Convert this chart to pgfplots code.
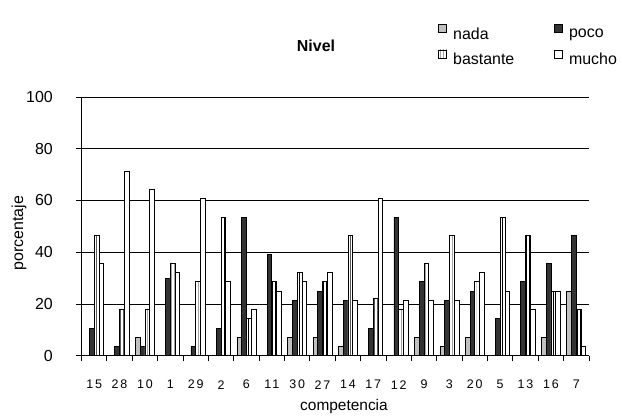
\documentclass[border=0pt]{standalone}
\usepackage{fontspec}
\setmainfont{Liberation Sans}
\newfontfamily\spaced[LetterSpace=15]{Liberation Sans}
\usepackage{pgfplots}
\pgfplotsset{compat=1.18}
\usetikzlibrary{patterns}

\definecolor{nadagray}{HTML}{C0C0C0}
\definecolor{pocogray}{HTML}{333333}

% competencia: nada, poco, bastante, mucho (porcentaje)
\begin{document}
\begin{tikzpicture}
\begin{axis}[
    scale only axis,
    width=507.5bp, height=258.7bp,
    ybar=0pt, bar width=4.75bp,
    xmin=-0.5, xmax=19.5,
    ymin=0, ymax=100,
    axis x line*=bottom, axis y line*=left,
    axis line style={-, line width=0.8bp},
    ytick={0,20,...,100},
    xtick={0,...,19},
    xticklabels={15,28,10,1,29,2,6,11,30,27,14,17,12,9,3,20,5,13,16,7},
    xtick pos=left, ytick pos=left,
    tick align=outside,
    major tick length=5bp,
    tick style={draw=none},
    ymajorgrids,
    grid style={black, line width=0.8bp},
    /pgf/number format/assume math mode=true,
    yticklabel style={font=\fontsize{16}{19}\selectfont, anchor=east, inner sep=0pt, xshift=-23.5bp},
    xticklabel style={font=\spaced\fontsize{12.5}{15}\selectfont, anchor=center, inner sep=0pt, yshift=-24bp},
    xlabel={competencia},
    ylabel={porcentaje},
    xlabel style={font=\fontsize{15.5}{18}\selectfont, at={(axis description cs:0.5172,-0.1983)}, anchor=center},
    ylabel style={font=\fontsize{16}{19}\selectfont, at={(axis description cs:-0.1232,0.4743)}, anchor=center},
    legend image code/.code={\draw[#1, line width=0.8bp] (0bp,1.5bp) rectangle (8bp,9.5bp); \path (12bp,0bp);},
    legend style={at={(axis description cs:0.697,1.29)}, anchor=north west,
        draw=none, fill=none, font=\fontsize{16}{19}\selectfont,
        row sep=7bp,
        /tikz/every even column/.append style={column sep=38bp}},
    legend columns=2,
    legend cell align=left,
]
\addplot[draw=black, line width=0.75bp, fill=nadagray] coordinates {
(0,0) (1,0) (2,7.1) (3,0) (4,0) (5,0) (6,7.1) (7,0) (8,7.1) (9,7.1)
(10,3.6) (11,0) (12,0) (13,7.1) (14,3.6) (15,7.1) (16,0) (17,0) (18,7.1) (19,25)
};
\addplot[draw=black, line width=0.75bp, fill=pocogray] coordinates {
(0,10.7) (1,3.6) (2,3.6) (3,30) (4,3.6) (5,10.7) (6,53.6) (7,39.3) (8,21.4) (9,25)
(10,21.4) (11,10.7) (12,53.6) (13,28.6) (14,21.4) (15,25) (16,14.3) (17,28.6) (18,35.7) (19,46.4)
};
\addplot[draw=black, line width=0.75bp, fill=white, postaction={pattern=vertical lines}] coordinates {
(0,46.4) (1,17.9) (2,17.9) (3,35.7) (4,28.6) (5,53.6) (6,14.3) (7,28.6) (8,32.1) (9,28.6)
(10,46.4) (11,22) (12,17.9) (13,35.7) (14,46.4) (15,28.6) (16,53.6) (17,46.4) (18,25) (19,17.9)
};
\addplot[draw=black, line width=0.75bp, fill=white] coordinates {
(0,35.7) (1,71.4) (2,64.3) (3,32.1) (4,60.7) (5,28.6) (6,17.9) (7,25) (8,28.6) (9,32.1)
(10,21.4) (11,60.7) (12,21.4) (13,21.4) (14,21.4) (15,32.1) (16,25) (17,17.9) (18,25) (19,3.6)
};
\legend{nada,poco,bastante,mucho}
\end{axis}
% tick marks between categories and at the y ticks
\foreach \i in {0,...,20}
    \draw[black, line width=0.8bp] (\i*25.375bp,0bp) -- (\i*25.375bp,-5.5bp);
\foreach \j in {0,...,5}
    \draw[black, line width=0.8bp] (0bp,\j*51.74bp) -- (-5.5bp,\j*51.74bp);
\node[font=\bfseries\fontsize{16}{19}\selectfont] at (234.5bp,309.7bp) {Nivel};
\path[use as bounding box] (-81.5bp,-59.3bp) rectangle (540.5bp,355.7bp);
\end{tikzpicture}
\end{document}
